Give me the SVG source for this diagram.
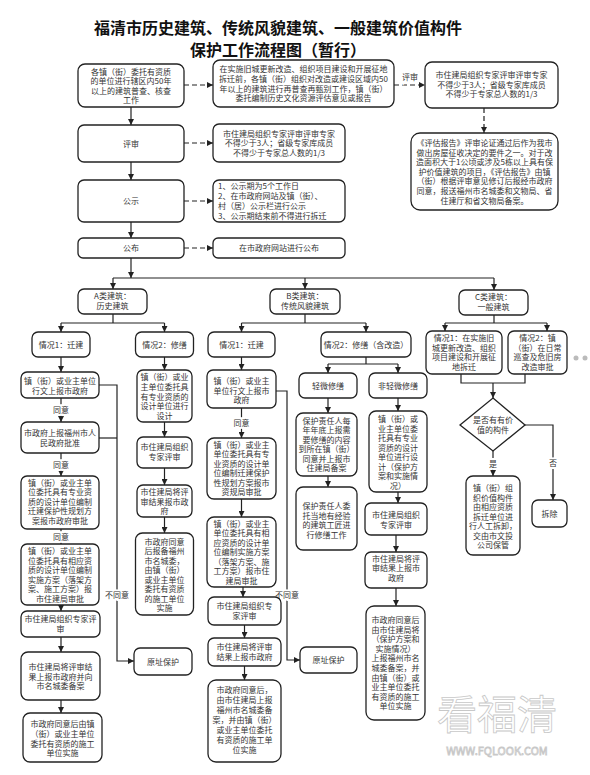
<svg xmlns="http://www.w3.org/2000/svg" width="590" height="775" viewBox="0 0 590 775">
<defs>
<style>
.b{fill:#fff;stroke:#222;stroke-width:1.3}
.t{font-family:"Noto Sans CJK SC","Microsoft YaHei",sans-serif;font-size:8px;fill:#333;text-anchor:middle}
.l{text-anchor:start}
.c{fill:none;stroke:#222;stroke-width:1.2}
.d{stroke-dasharray:5,3}
.lb{font-family:"Noto Sans CJK SC",sans-serif;font-size:8px;fill:#333;text-anchor:middle;paint-order:stroke;stroke:#fff;stroke-width:4px}
.ti{font-family:"Noto Sans CJK SC",sans-serif;font-size:16px;font-weight:bold;fill:#111;text-anchor:middle}
.wm{font-family:"Noto Sans CJK SC",sans-serif;fill:#fff;stroke:#c8c8c8;stroke-width:0.8;text-anchor:middle}
</style>
<marker id="ah" viewBox="0 0 10 10" refX="10" refY="5" markerWidth="6" markerHeight="6" orient="auto" markerUnits="userSpaceOnUse"><path d="M0,0 L10,5 L0,10 z" fill="#222"/></marker>
</defs>
<rect width="590" height="775" fill="#fff"/>
<g id="title">
<text class="ti" x="278" y="34">福清市历史建筑、传统风貌建筑、一般建筑价值构件</text>
<text class="ti" x="278" y="56">保护工作流程图（暂行）</text>
</g>
<g id="connectors">
<path class="c d" d="M184,85H213" marker-end="url(#ah)"/>
<path class="c d" d="M394,85H425" marker-end="url(#ah)"/>
<path class="c d" d="M484,108V133" marker-end="url(#ah)"/>
<path class="c d" d="M184,143H213" marker-end="url(#ah)"/>
<path class="c d" d="M184,201H213" marker-end="url(#ah)"/>
<path class="c d" d="M184,248H213" marker-end="url(#ah)"/>
<text class="lb" x="410" y="80">评审</text>
<path class="c" d="M131,107V125" marker-end="url(#ah)"/>
<path class="c" d="M131,162V180" marker-end="url(#ah)"/>
<path class="c" d="M131,222V238" marker-end="url(#ah)"/>
<path class="c" d="M131,258V278" marker-end="url(#ah)"/>
<path class="c" d="M113,278H494"/>
<path class="c" d="M113,278V289" marker-end="url(#ah)"/>
<path class="c" d="M305,278V289" marker-end="url(#ah)"/>
<path class="c" d="M494,278V290" marker-end="url(#ah)"/>
<path class="c" d="M113,314V323M61,323H164.5"/>
<path class="c" d="M61,323V332" marker-end="url(#ah)"/>
<path class="c" d="M164.5,323V332" marker-end="url(#ah)"/>
<path class="c" d="M305,314V323M241.5,323H366"/>
<path class="c" d="M241.5,323V332" marker-end="url(#ah)"/>
<path class="c" d="M366,323V332" marker-end="url(#ah)"/>
<path class="c" d="M494,315V323M445,323H547"/>
<path class="c" d="M445,323V331" marker-end="url(#ah)"/>
<path class="c" d="M547,323V331" marker-end="url(#ah)"/>
<path class="c" d="M61,357V372" marker-end="url(#ah)"/>
<path class="c" d="M61,398V422" marker-end="url(#ah)"/>
<path class="c" d="M61,453V476" marker-end="url(#ah)"/>
<path class="c" d="M61,529V544" marker-end="url(#ah)"/>
<path class="c" d="M61,605V611" marker-end="url(#ah)"/>
<path class="c" d="M61,637V652" marker-end="url(#ah)"/>
<path class="c" d="M61,700V713" marker-end="url(#ah)"/>
<text class="lb" x="61" y="413">同意</text>
<text class="lb" x="61" y="467.5">同意</text>
<text class="lb" x="61" y="539.5">同意</text>
<path class="c" d="M99,438H117"/>
<path class="c" d="M99,385H117V661H134" marker-end="url(#ah)"/>
<text class="lb" x="117" y="598">不同意</text>
<path class="c" d="M164.5,357V370" marker-end="url(#ah)"/>
<path class="c" d="M164.5,422V437" marker-end="url(#ah)"/>
<path class="c" d="M164.5,468V485" marker-end="url(#ah)"/>
<path class="c" d="M164.5,517V533" marker-end="url(#ah)"/>
<path class="c" d="M241.5,357V370" marker-end="url(#ah)"/>
<path class="c" d="M241.5,408V438" marker-end="url(#ah)"/>
<text class="lb" x="241.5" y="426">同意</text>
<path class="c" d="M241.5,499V517" marker-end="url(#ah)"/>
<path class="c" d="M243,587V597" marker-end="url(#ah)"/>
<path class="c" d="M244.5,625V638" marker-end="url(#ah)"/>
<path class="c" d="M244.5,666V680" marker-end="url(#ah)"/>
<path class="c" d="M276,391H287V660H300" marker-end="url(#ah)"/>
<text class="lb" x="287" y="598">不同意</text>
<path class="c" d="M366,357V364M328,364H398"/>
<path class="c" d="M328,364V373" marker-end="url(#ah)"/>
<path class="c" d="M398,364V373" marker-end="url(#ah)"/>
<path class="c" d="M328,398V413" marker-end="url(#ah)"/>
<path class="c" d="M328,476V487" marker-end="url(#ah)"/>
<path class="c" d="M398,398V411" marker-end="url(#ah)"/>
<path class="c" d="M398,492V503" marker-end="url(#ah)"/>
<path class="c" d="M396,535V552" marker-end="url(#ah)"/>
<path class="c" d="M396,588V606" marker-end="url(#ah)"/>
<path class="c" d="M461,374V383H525V374"/>
<path class="c" d="M493,383V398" marker-end="url(#ah)"/>
<path class="c" d="M493,451V476" marker-end="url(#ah)"/>
<text class="lb" x="493" y="467">是</text>
<path class="c" d="M525,425H553V500" marker-end="url(#ah)"/>
<text class="lb" x="553" y="466">否</text>
</g>
<g id="n-survey"><rect class="b" x="78" y="64" width="106" height="43" rx="7"/>
<text class="t"><tspan x="131" y="74.5">各镇（街）委托有资质</tspan><tspan x="131" y="84">的单位进行辖区内50年</tspan><tspan x="131" y="93.5">以上的建筑普查、核查</tspan><tspan x="131" y="103">工作</tspan></text></g>
<g id="n-resurvey"><rect class="b" x="213" y="60" width="181" height="47" rx="7"/>
<text class="t"><tspan x="303.5" y="71.5">在实施旧城更新改造、组织项目建设和开展征地</tspan><tspan x="303.5" y="81.5">拆迁前，各镇（街）组织对改造或建设区域内50</tspan><tspan x="303.5" y="91.5">年以上的建筑进行再普查再甄别工作，镇（街）</tspan><tspan x="303.5" y="101">委托编制历史文化资源评估意见或报告</tspan></text></g>
<g id="n-expert1"><rect class="b" x="425" y="62" width="133" height="46" rx="7"/>
<text class="t"><tspan x="491.5" y="78">市住建局组织专家评审评审专家</tspan><tspan x="491.5" y="87.5">不得少于3人；省级专家库成员</tspan><tspan x="491.5" y="97">不得少于专家总人数的1/3</tspan></text></g>
<g id="n-report"><rect class="b" x="411" y="133" width="147" height="77" rx="9"/>
<text class="t"><tspan x="484.5" y="146">《评估报告》评审论证通过后作为我市</tspan><tspan x="484.5" y="155.6">做出房屋征收决定的要件之一。对于改</tspan><tspan x="484.5" y="165.2">造面积大于1公顷或涉及5栋以上具有保</tspan><tspan x="484.5" y="174.8">护价值建筑的项目，《评估报告》由镇</tspan><tspan x="484.5" y="184.4">（街）根据评审意见修订后报经市政府</tspan><tspan x="484.5" y="194">同意，报送福州市名城委和文物局、省</tspan><tspan x="484.5" y="203.6">住建厅和省文物局备案。</tspan></text></g>
<g id="n-review"><rect class="b" x="78" y="125" width="106" height="37" rx="6"/>
<text class="t" x="131" y="146.5">评审</text></g>
<g id="n-expert2"><rect class="b" x="213" y="124" width="132" height="38" rx="6"/>
<text class="t"><tspan x="279" y="136.5">市住建局组织专家评审评审专家</tspan><tspan x="279" y="146">不得少于3人；省级专家库成员</tspan><tspan x="279" y="155.5">不得少于专家总人数的1/3</tspan></text></g>
<g id="n-publicity"><rect class="b" x="78" y="180" width="106" height="42" rx="6"/>
<text class="t" x="131" y="204">公示</text></g>
<g id="n-publicity-note"><rect class="b" x="213" y="180" width="132" height="42" rx="6"/>
<text class="t l"><tspan x="218" y="189">1、公示期为5个工作日</tspan><tspan x="218" y="199">2、在市政府网站及镇（街）、</tspan><tspan x="218" y="209">村（居）公示栏进行公示</tspan><tspan x="218" y="219">3、公示期结束前不得进行拆迁</tspan></text></g>
<g id="n-publish"><rect class="b" x="78" y="238" width="106" height="20" rx="5"/>
<text class="t" x="131" y="251">公布</text></g>
<g id="n-publish-note"><rect class="b" x="213" y="238" width="132" height="20" rx="5"/>
<text class="t" x="279" y="251">在市政府网站进行公布</text></g>
<g id="n-a"><rect class="b" x="78" y="289" width="69" height="25" rx="6"/>
<text class="t"><tspan x="112.5" y="299">A类建筑：</tspan><tspan x="112.5" y="309">历史建筑</tspan></text></g>
<g id="n-b"><rect class="b" x="270" y="289" width="70" height="25" rx="6"/>
<text class="t"><tspan x="305" y="299">B类建筑：</tspan><tspan x="305" y="309">传统风貌建筑</tspan></text></g>
<g id="n-c"><rect class="b" x="459" y="290" width="69" height="25" rx="6"/>
<text class="t"><tspan x="493.5" y="300">C类建筑：</tspan><tspan x="493.5" y="310">一般建筑</tspan></text></g>
<g id="n-a1"><rect class="b" x="32" y="332" width="58" height="25" rx="6"/>
<text class="t" x="61" y="347.5">情况1：迁建</text></g>
<g id="n-a2"><rect class="b" x="135.5" y="332" width="58" height="25" rx="6"/>
<text class="t" x="164.5" y="347.5">情况2：修缮</text></g>
<g id="n-b1"><rect class="b" x="208" y="332" width="67" height="25" rx="6"/>
<text class="t" x="241.5" y="347.5">情况1：迁建</text></g>
<g id="n-b2"><rect class="b" x="321" y="332" width="90" height="25" rx="6"/>
<text class="t" x="366" y="347.5">情况2：修缮（含改造）</text></g>
<g id="n-c1"><rect class="b" x="426" y="331" width="76" height="43" rx="6"/>
<text class="t"><tspan x="464" y="341">情况1：在实施旧</tspan><tspan x="464" y="350.5">城更新改造、组织</tspan><tspan x="464" y="360">项目建设和开展征</tspan><tspan x="464" y="369.5">地拆迁</tspan></text></g>
<g id="n-c2"><rect class="b" x="508" y="331" width="59" height="43" rx="6"/>
<text class="t"><tspan x="537.5" y="341">情况2：镇</tspan><tspan x="537.5" y="350.5">（街）在日常</tspan><tspan x="537.5" y="360">巡查及危旧房</tspan><tspan x="537.5" y="369.5">改造审批</tspan></text></g>
<g id="dots"><circle cx="576" cy="358" r="2.5" fill="#bbb"/><circle cx="585" cy="358" r="2.5" fill="#bbb"/></g>
<g id="n-a1-1"><rect class="b" x="21" y="372" width="78" height="26" rx="6"/>
<text class="t"><tspan x="60" y="384">镇（街）或业主单位</tspan><tspan x="60" y="394">行文上报市政府</tspan></text></g>
<g id="n-a1-2"><rect class="b" x="21" y="422" width="78" height="31" rx="6"/>
<text class="t"><tspan x="60" y="436">市政府上报福州市人</tspan><tspan x="60" y="446">民政府批准</tspan></text></g>
<g id="n-a1-3"><rect class="b" x="21" y="476" width="78" height="53" rx="6"/>
<text class="t"><tspan x="60" y="485.5">镇（街）或业主单</tspan><tspan x="60" y="495">位委托具有专业资</tspan><tspan x="60" y="504.5">质的设计单位编制</tspan><tspan x="60" y="514">迁建保护性规划方</tspan><tspan x="60" y="523.5">案报市政府审批</tspan></text></g>
<g id="n-a1-4"><rect class="b" x="21" y="544" width="78" height="61" rx="6"/>
<text class="t"><tspan x="60" y="554">镇（街）或业主单</tspan><tspan x="60" y="563.5">位委托具有相应资</tspan><tspan x="60" y="573">质的设计单位编制</tspan><tspan x="60" y="582.5">实施方案（落架方</tspan><tspan x="60" y="592">案、施工方案）报</tspan><tspan x="60" y="601.5">市住建局审批</tspan></text></g>
<g id="n-a1-5"><rect class="b" x="21" y="611" width="79" height="26" rx="6"/>
<text class="t"><tspan x="60.5" y="621.5">市住建局组织专家评</tspan><tspan x="60.5" y="631.5">审</tspan></text></g>
<g id="n-a1-6"><rect class="b" x="21" y="652" width="79" height="48" rx="7"/>
<text class="t"><tspan x="60.5" y="670">市住建局将评审结</tspan><tspan x="60.5" y="679.5">果上报市政府并向</tspan><tspan x="60.5" y="689">市名城委备案</tspan></text></g>
<g id="n-a1-7"><rect class="b" x="23" y="713" width="79" height="49" rx="7"/>
<text class="t"><tspan x="62.5" y="727">市政府同意后由镇</tspan><tspan x="62.5" y="737">（街）或业主单位</tspan><tspan x="62.5" y="746.5">委托有资质的施工</tspan><tspan x="62.5" y="756">单位实施</tspan></text></g>
<g id="n-a-keep"><rect class="b" x="134" y="648" width="58" height="27" rx="6"/>
<text class="t" x="163" y="664.5">原址保护</text></g>
<g id="n-a2-1"><rect class="b" x="137" y="370" width="55" height="52" rx="6"/>
<text class="t"><tspan x="164.5" y="380">镇（街）或业</tspan><tspan x="164.5" y="390">主单位委托具</tspan><tspan x="164.5" y="399.5">有专业资质的</tspan><tspan x="164.5" y="409">设计单位进行</tspan><tspan x="164.5" y="418.5">设计</tspan></text></g>
<g id="n-a2-2"><rect class="b" x="137" y="437" width="55" height="31" rx="6"/>
<text class="t"><tspan x="164.5" y="450">市住建局组织</tspan><tspan x="164.5" y="460">专家评审</tspan></text></g>
<g id="n-a2-3"><rect class="b" x="137" y="485" width="55" height="32" rx="6"/>
<text class="t"><tspan x="164.5" y="495">市住建局将评</tspan><tspan x="164.5" y="504.5">审结果报市政</tspan><tspan x="164.5" y="514">府</tspan></text></g>
<g id="n-a2-4"><rect class="b" x="135.5" y="533" width="58" height="82" rx="7"/>
<text class="t"><tspan x="164.5" y="544.5">市政府同意</tspan><tspan x="164.5" y="554">后报备福州</tspan><tspan x="164.5" y="563.5">市名城委，</tspan><tspan x="164.5" y="573">由镇（街）</tspan><tspan x="164.5" y="582.5">或业主单位</tspan><tspan x="164.5" y="592">委托有资质</tspan><tspan x="164.5" y="601.5">的施工单位</tspan><tspan x="164.5" y="611">实施</tspan></text></g>
<g id="n-b1-1"><rect class="b" x="207" y="370" width="69" height="38" rx="6"/>
<text class="t"><tspan x="241.5" y="384">镇（街）或业主</tspan><tspan x="241.5" y="393.5">单位行文上报市</tspan><tspan x="241.5" y="403">政府</tspan></text></g>
<g id="n-b1-2"><rect class="b" x="207" y="438" width="69" height="61" rx="7"/>
<text class="t"><tspan x="241.5" y="447.5">镇（街）或业主</tspan><tspan x="241.5" y="457">单位委托具有专</tspan><tspan x="241.5" y="466.5">业资质的设计单</tspan><tspan x="241.5" y="476">位编制迁建保护</tspan><tspan x="241.5" y="485.5">性规划方案报市</tspan><tspan x="241.5" y="495">资规局审批</tspan></text></g>
<g id="n-b1-3"><rect class="b" x="207" y="517" width="69" height="70" rx="7"/>
<text class="t"><tspan x="241.5" y="526.5">镇（街）或业主</tspan><tspan x="241.5" y="536">单位委托具有相</tspan><tspan x="241.5" y="545.5">应资质的设计单</tspan><tspan x="241.5" y="555">位编制实施方案</tspan><tspan x="241.5" y="564.5">（落架方案、施</tspan><tspan x="241.5" y="574">工方案）报市住</tspan><tspan x="241.5" y="583.5">建局审批</tspan></text></g>
<g id="n-b1-4"><rect class="b" x="208" y="597" width="73" height="28" rx="6"/>
<text class="t"><tspan x="244.5" y="609">市住建局组织专</tspan><tspan x="244.5" y="619">家评审</tspan></text></g>
<g id="n-b1-5"><rect class="b" x="208" y="638" width="73" height="28" rx="6"/>
<text class="t"><tspan x="244.5" y="650">市住建局将评审</tspan><tspan x="244.5" y="660">结果上报市政府</tspan></text></g>
<g id="n-b1-6"><rect class="b" x="208" y="680" width="73" height="82" rx="8"/>
<text class="t"><tspan x="244.5" y="693">市政府同意后，</tspan><tspan x="244.5" y="703">由市住建局上报</tspan><tspan x="244.5" y="713">福州市名城委备</tspan><tspan x="244.5" y="723">案，并由镇（街）</tspan><tspan x="244.5" y="733">或业主单位委托</tspan><tspan x="244.5" y="743">有资质的施工单</tspan><tspan x="244.5" y="753">位实施</tspan></text></g>
<g id="n-b-keep"><rect class="b" x="300" y="647" width="57" height="26" rx="6"/>
<text class="t" x="328.5" y="663">原址保护</text></g>
<g id="n-b2-minor"><rect class="b" x="299" y="373" width="58" height="25" rx="6"/>
<text class="t" x="328" y="389">轻微修缮</text></g>
<g id="n-b2-major"><rect class="b" x="369" y="373" width="58" height="25" rx="6"/>
<text class="t" x="398" y="389">非轻微修缮</text></g>
<g id="n-b2-m1"><rect class="b" x="296" y="413" width="61" height="63" rx="7"/>
<text class="t"><tspan x="326.5" y="423.5">保护责任人每</tspan><tspan x="326.5" y="433">年年底上报需</tspan><tspan x="326.5" y="442.5">要修缮的内容</tspan><tspan x="326.5" y="452">到所在镇（街）</tspan><tspan x="326.5" y="461.5">同意并上报市</tspan><tspan x="326.5" y="471">住建局备案</tspan></text></g>
<g id="n-b2-m2"><rect class="b" x="296" y="487" width="61" height="63" rx="7"/>
<text class="t"><tspan x="326.5" y="509">保护责任人委</tspan><tspan x="326.5" y="518.5">托当地有经验</tspan><tspan x="326.5" y="528">的建筑工匠进</tspan><tspan x="326.5" y="537.5">行修缮工作</tspan></text></g>
<g id="n-b2-n1"><rect class="b" x="369" y="411" width="58" height="81" rx="7"/>
<text class="t"><tspan x="398" y="422">镇（街）或</tspan><tspan x="398" y="431.5">业主单位委</tspan><tspan x="398" y="441">托具有专业</tspan><tspan x="398" y="450.5">资质的设计</tspan><tspan x="398" y="460">单位进行设</tspan><tspan x="398" y="469.5">计（保护方</tspan><tspan x="398" y="479">案和实施情</tspan><tspan x="398" y="488.5">况）</tspan></text></g>
<g id="n-b2-n2"><rect class="b" x="365" y="503" width="62" height="32" rx="6"/>
<text class="t"><tspan x="396" y="518">市住建局组织</tspan><tspan x="396" y="527.5">专家评审</tspan></text></g>
<g id="n-b2-n3"><rect class="b" x="365" y="552" width="62" height="36" rx="6"/>
<text class="t"><tspan x="396" y="561.5">市住建局将评</tspan><tspan x="396" y="571">审结果上报市</tspan><tspan x="396" y="580.5">政府</tspan></text></g>
<g id="n-b2-n4"><rect class="b" x="366" y="606" width="59" height="114" rx="8"/>
<text class="t"><tspan x="395.5" y="623">市政府同意后</tspan><tspan x="395.5" y="632.6">由市住建局将</tspan><tspan x="395.5" y="642.2">（保护方案和</tspan><tspan x="395.5" y="651.8">实施情况）</tspan><tspan x="395.5" y="661.4">上报福州市名</tspan><tspan x="395.5" y="671">城委备案，并</tspan><tspan x="395.5" y="680.6">由镇（街）或</tspan><tspan x="395.5" y="690.2">业主单位委托</tspan><tspan x="395.5" y="699.8">有资质的施工</tspan><tspan x="395.5" y="709.4">单位实施</tspan></text></g>
<g id="n-c-decide"><polygon class="b" points="493,398 525,425 493,451 460,425"/>
<text class="t"><tspan x="493" y="423">是否有有价</tspan><tspan x="493" y="433">值的构件</tspan></text></g>
<g id="n-c-yes"><rect class="b" x="466" y="476" width="54" height="79" rx="7"/>
<text class="t"><tspan x="493" y="491">镇（街）组</tspan><tspan x="493" y="500.5">织价值构件</tspan><tspan x="493" y="510">由相应资质</tspan><tspan x="493" y="519.5">拆迁单位进</tspan><tspan x="493" y="529">行人工拆卸，</tspan><tspan x="493" y="538.5">交由市文投</tspan><tspan x="493" y="548">公司保管</tspan></text></g>
<g id="n-c-no"><rect class="b" x="532" y="500" width="35" height="27" rx="6"/>
<text class="t" x="549.5" y="517">拆除</text></g>
<g id="watermark">
<text class="wm" x="497" y="729" font-size="40">看福清</text>
<text class="wm" x="497" y="755" font-size="11" stroke-width="0.6">WWW.FQLOOK.COM</text>
</g>
</svg>
